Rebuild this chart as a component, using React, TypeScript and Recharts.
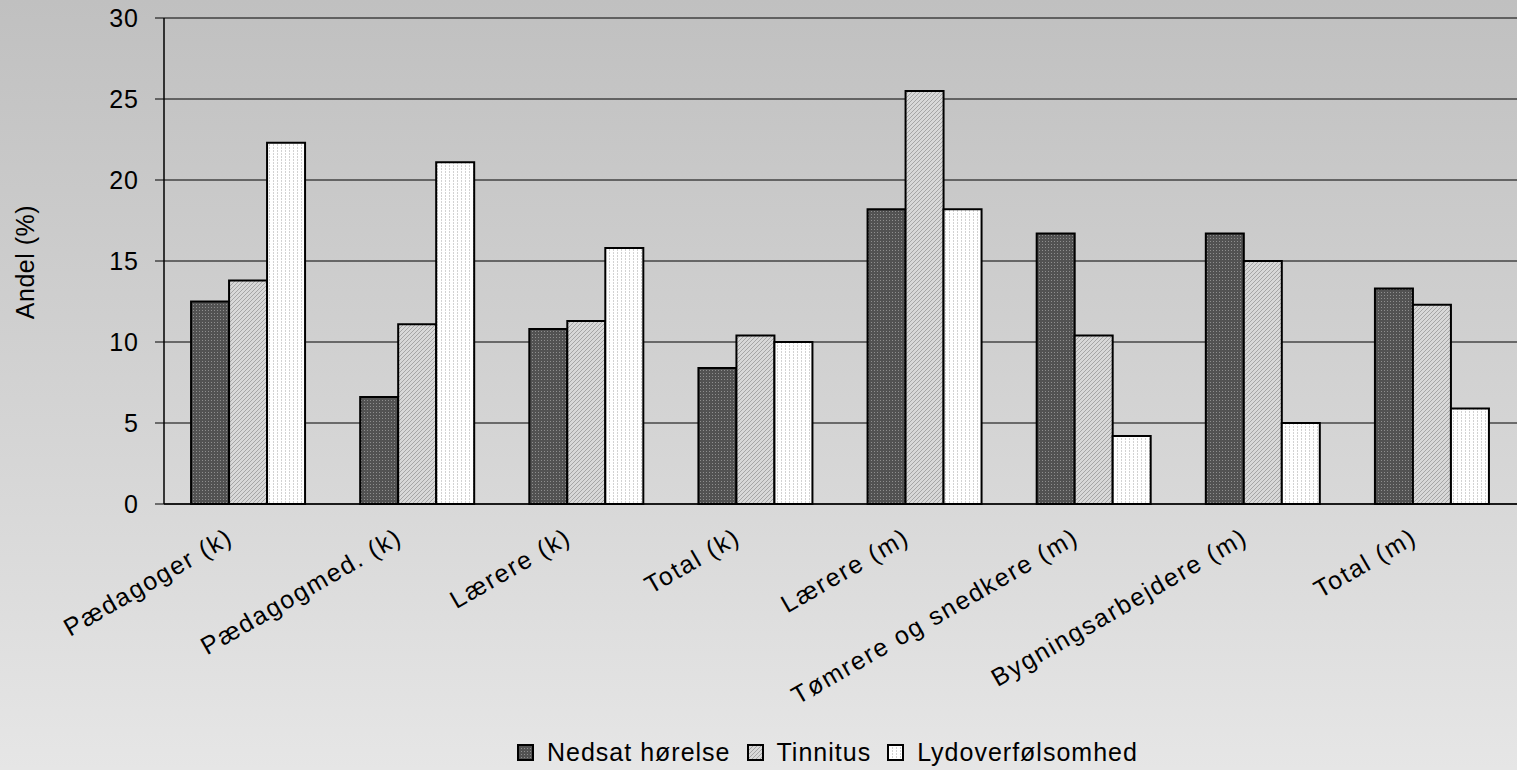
import { Bar, BarChart, CartesianGrid, Legend, XAxis, YAxis } from "recharts";

const categories = [
  "Pædagoger (k)",
  "Pædagogmed. (k)",
  "Lærere (k)",
  "Total (k)",
  "Lærere (m)",
  "Tømrere og snedkere (m)",
  "Bygningsarbejdere (m)",
  "Total (m)",
];
const nedsat = [12.5, 6.6, 10.8, 8.4, 18.2, 16.7, 16.7, 13.3];
const tinnitus = [13.8, 11.1, 11.3, 10.4, 25.5, 10.4, 15.0, 12.3];
const lydoverf = [22.3, 21.1, 15.8, 10.0, 18.2, 4.2, 5.0, 5.9];
const yTicks = [0, 5, 10, 15, 20, 25, 30];

const data = categories.map((name, i) => ({
  name,
  nedsat: nedsat[i],
  tinnitus: tinnitus[i],
  lyd: lydoverf[i],
}));

const series = [
  { key: "nedsat", label: "Nedsat hørelse", fill: "url(#patDark)" },
  { key: "tinnitus", label: "Tinnitus", fill: "url(#patMid)" },
  { key: "lyd", label: "Lydoverfølsomhed", fill: "url(#patLight)" },
];

const FONT = "'Liberation Sans', Arial, sans-serif";

function CategoryTick({ x, y, payload }: any) {
  return (
    <g transform={`translate(${x - 14},${y + 38}) rotate(-30)`}>
      <text
        x={0}
        y={0}
        textAnchor="end"
        fontSize={25}
        letterSpacing={1.8}
        fill="#000"
        fontFamily={FONT}
      >
        {payload.value}
      </text>
    </g>
  );
}

function LegendBox() {
  return (
    <div
      style={{
        display: "flex",
        alignItems: "center",
        height: 40,
        fontFamily: FONT,
        fontSize: 25,
        letterSpacing: 1,
        color: "#000",
      }}
    >
      {series.map((s) => (
        <div key={s.key} style={{ display: "flex", alignItems: "center", marginRight: 16 }}>
          <svg width={17} height={17} style={{ marginRight: 13 }}>
            <rect x={1} y={1} width={15} height={15} fill={s.fill} stroke="#000" strokeWidth={2} />
          </svg>
          <span>{s.label}</span>
        </div>
      ))}
    </div>
  );
}

export default function App() {
  return (
    <div
      style={{
        position: "absolute",
        left: 0,
        top: 0,
        width: 1517,
        height: 770,
        background: "linear-gradient(to bottom, #c0c0c0 0%, #d6d6d6 60%, #e6e6e6 100%)",
        fontFamily: FONT,
      }}
    >
      <BarChart
        width={1517}
        height={770}
        data={data}
        margin={{ top: 18, right: 0, left: 0, bottom: 0 }}
        barGap={0}
        barCategoryGap="16%"
      >
        <defs>
          <pattern id="patDark" width={3} height={3} patternUnits="userSpaceOnUse">
            <rect width={3} height={3} fill="#525252" />
            <rect x={1} y={1} width={1} height={1} fill="#8e8e8e" />
          </pattern>
          <pattern id="patMid" width={4} height={4} patternUnits="userSpaceOnUse">
            <rect width={4} height={4} fill="#d8d8d8" />
            <path d="M0,4 L4,0 M-1,1 L1,-1 M3,5 L5,3" stroke="#a6a6a6" strokeWidth={1} />
          </pattern>
          <pattern id="patLight" width={4} height={3} patternUnits="userSpaceOnUse">
            <rect width={4} height={3} fill="#ffffff" />
            <rect x={1} y={0} width={1} height={2} fill="#d2d2d2" />
          </pattern>
        </defs>
        <CartesianGrid vertical={false} stroke="#000" strokeWidth={1} />
        <XAxis
          dataKey="name"
          interval={0}
          height={226}
          tickSize={0}
          tickMargin={0}
          tickLine={false}
          axisLine={{ stroke: "#000", strokeWidth: 1.5 }}
          tick={<CategoryTick />}
        />
        <YAxis
          width={164}
          domain={[0, 30]}
          ticks={yTicks}
          interval={0}
          tickSize={9}
          tickMargin={16}
          axisLine={{ stroke: "#000", strokeWidth: 1.5 }}
          tickLine={{ stroke: "#000" }}
          tick={{ fontSize: 25, fill: "#000", fontFamily: FONT, letterSpacing: 1 }}
          label={() => (
            <text
              x={25}
              y={262}
              transform="rotate(-90, 25, 262)"
              textAnchor="middle"
              dominantBaseline="central"
              fontSize={25}
              letterSpacing={0.5}
              fill="#000"
              fontFamily={FONT}
            >
              Andel (%)
            </text>
          )}
        />
        {series.map((s) => (
          <Bar
            key={s.key}
            dataKey={s.key}
            name={s.label}
            fill={s.fill}
            stroke="#000"
            strokeWidth={2}
            isAnimationActive={false}
          />
        ))}
        <Legend
          verticalAlign="bottom"
          height={40}
          content={() => <LegendBox />}
          wrapperStyle={{ left: 517, top: 732, width: "auto" }}
        />
      </BarChart>
    </div>
  );
}
